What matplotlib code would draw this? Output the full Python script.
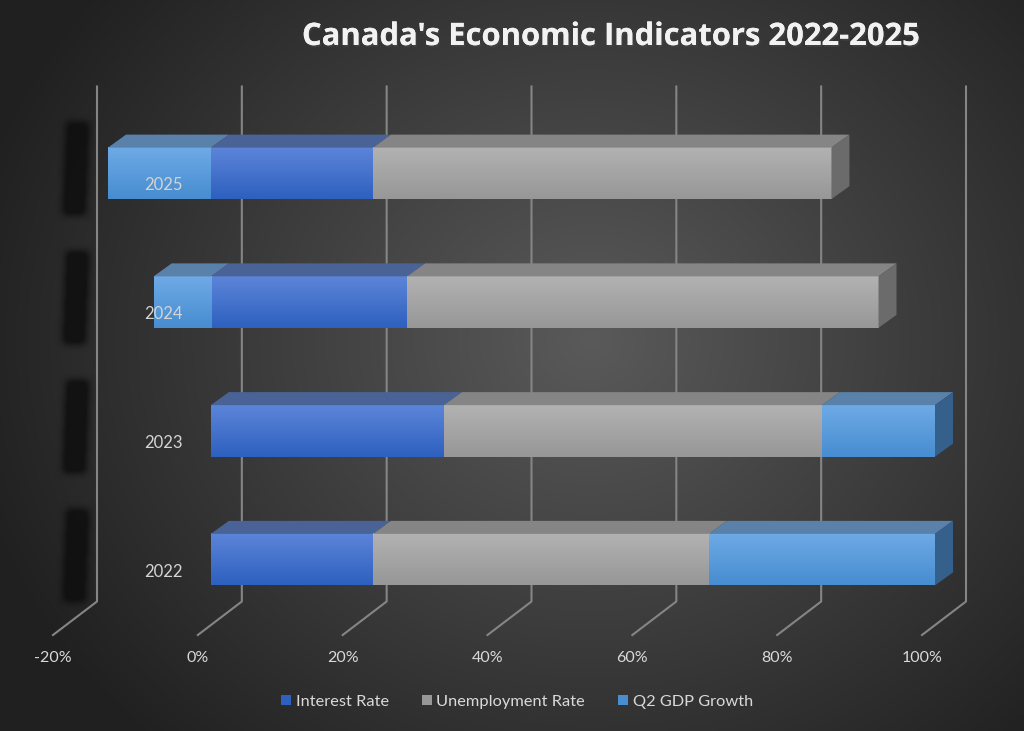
"""
Canada's economic indicators as a 3-D looking 100% stacked bar chart
"""
import numpy as np
import matplotlib.pyplot as plt
import matplotlib.patheffects as pe
from matplotlib.patches import Polygon, Patch
from matplotlib.colors import LinearSegmentedColormap

plt.rcParams["font.family"] = ["Lato", "DejaVu Sans"]

# shares of each year's total (percent)
years = ["2022", "2023", "2024", "2025"]
interest_rate = [22.4, 32.2, 27.1, 22.4]
unemployment_rate = [46.4, 52.2, 65.1, 63.3]
gdp_growth = [31.2, 15.6, -7.9, -14.2]
series_names = ["Interest Rate", "Unemployment Rate", "Q2 GDP Growth"]
x_ticks = [-20, 0, 20, 40, 60, 80, 100]
tick_labels = ["-20%", "0%", "20%", "40%", "60%", "80%", "100%"]

# front top, front bottom, top face, side face
colors = {
    "Interest Rate": ("#5c85d9", "#2e60bf", "#4a6397", "#2b4f8f"),
    "Unemployment Rate": ("#b2b2b2", "#979797", "#858585", "#6b6b6b"),
    "Q2 GDP Growth": ("#6eaae6", "#478dd0", "#5a81aa", "#34608b"),
}

W, H = 1024, 731
fig = plt.figure(figsize=(W / 100, H / 100), dpi=100)

# radial background
bg = fig.add_axes([0, 0, 1, 1])
bg.axis("off")
yy, xx = np.mgrid[0:H, 0:W]
d = np.clip(np.hypot((xx - 590) / 640, (yy - 340) / 560), 0, 1)
shade = (0x5a * (1 - d) + 0x20 * d) / 255
bg.imshow(np.dstack([shade] * 3), extent=(0, W, H, 0), aspect="auto")
bg.set_xlim(0, W)
bg.set_ylim(H, 0)

# bars live in the front plane of the box
left_px, right_px, top_px, bot_px = 66, 935, 109, 624
ax = fig.add_axes([left_px / W, 1 - bot_px / H,
                   (right_px - left_px) / W, (bot_px - top_px) / H])
ax.axis("off")
xmin, xmax, ymin, ymax = -20, 100, -0.5, 3.5
ppx = (right_px - left_px) / (xmax - xmin)
ppy = (bot_px - top_px) / (ymax - ymin)


def px(dx, dy):
    """pixel offset (right, up) -> data offset"""
    return dx / ppx, dy / ppy


def box_blur(a, k, n=3):
    kern = np.ones(k) / k
    for _ in range(n):
        a = np.apply_along_axis(lambda v: np.convolve(v, kern, "same"), 0, a)
        a = np.apply_along_axis(lambda v: np.convolve(v, kern, "same"), 1, a)
    return a


# walls: back gridlines + floor lines
bdx, bdy = px(31, 22.5)
fdx, fdy = px(-13, -11)
for t, lab in zip(x_ticks, tick_labels):
    ax.plot([t + bdx, t + bdx, t + fdx], [ymax + bdy, ymin + bdy, ymin + fdy],
            color="#858585", lw=1.5, clip_on=False, zorder=1)
    ax.text(t + fdx, ymin + fdy - 23 / ppy, lab, ha="center", va="center",
            color="#d9d9d9", fontsize=11.5, clip_on=False)

# soft dark shadows left of the categories
sw, sh = 60, 150
sy, sx = np.mgrid[0:sh, 0:sw]
skew = (sh / 2 - sy) * 0.04
core = ((sx >= 17 + skew) & (sx <= 40 + skew) & (np.abs(sy - sh / 2) <= 46))
blob = box_blur(core.astype(float), 7)
rgba = np.zeros((sh, sw, 4))
rgba[..., :3] = 0.06
rgba[..., 3] = np.clip(blob * 1.15, 0, 0.88)
for i in range(len(years)):
    cy = i + 5 / ppy
    x0 = xmin + (47 - left_px) / ppx
    ax.imshow(rgba, extent=(x0, x0 + sw / ppx, cy - sh / 2 / ppy, cy + sh / 2 / ppy),
              aspect="auto", interpolation="bilinear", zorder=2, clip_on=False)

# stacked 3-D bars
bar_h = 51.5 / ppy
ddx, ddy = px(18, 13)
grad = np.linspace(0, 1, 64).reshape(-1, 1)
for i, year in enumerate(years):
    segs = []
    pos = 0
    for name, vals in zip(series_names[:2], [interest_rate, unemployment_rate]):
        segs.append((name, pos, vals[i]))
        pos += vals[i]
    g = gdp_growth[i]
    if g >= 0:
        segs.append(("Q2 GDP Growth", pos, g))
    else:
        segs.append(("Q2 GDP Growth", g, -g))
    yb, yt = i - bar_h / 2, i + bar_h / 2
    rightmost = max(segs, key=lambda s: s[1] + s[2])
    for name, left, width in segs:
        c_top, c_bot, c_face, c_side = colors[name]
        cmap = LinearSegmentedColormap.from_list(name, [c_top, c_bot])
        ax.imshow(grad, extent=(left, left + width, yb, yt), cmap=cmap,
                  aspect="auto", interpolation="bilinear", zorder=3,
                  clip_on=False)
        r = left + width
        ax.add_patch(Polygon([(left, yt), (r, yt), (r + ddx, yt + ddy),
                              (left + ddx, yt + ddy)], closed=True,
                             fc=c_face, ec="none", zorder=3, clip_on=False))
        if (name, left, width) == rightmost:
            ax.add_patch(Polygon([(r, yb), (r, yt), (r + ddx, yt + ddy),
                                  (r + ddx, yb + ddy)], closed=True,
                                 fc=c_side, ec="none", zorder=3, clip_on=False))
    ax.text(xmin + (183 - left_px) / ppx, i - 12 / ppy, year, ha="right",
            va="center", color="#d4d4d4", fontsize=12, zorder=5)

ax.set_xlim(xmin, xmax)
ax.set_ylim(ymin, ymax)

handles = [Patch(fc=colors[n][1], ec="none") for n in series_names]
fig.legend(handles, series_names, loc="center", bbox_to_anchor=(517 / W, 1 - 702 / H),
           ncol=3, frameon=False, fontsize=11.8, labelcolor="#d9d9d9",
           handlelength=0.6, handleheight=0.6, handletextpad=0.3,
           columnspacing=2.0)

fig.text(611 / W, 1 - 37 / H, "Canada's Economic Indicators 2022-2025",
         ha="center", va="center", fontsize=22.3, weight="bold", color="#f2f2f2",
         family=["Open Sans", "DejaVu Sans"],
         path_effects=[pe.withSimplePatchShadow(offset=(1, -1.5), alpha=0.5),
                       pe.Normal()])

fig.savefig("out.png", dpi=100)
